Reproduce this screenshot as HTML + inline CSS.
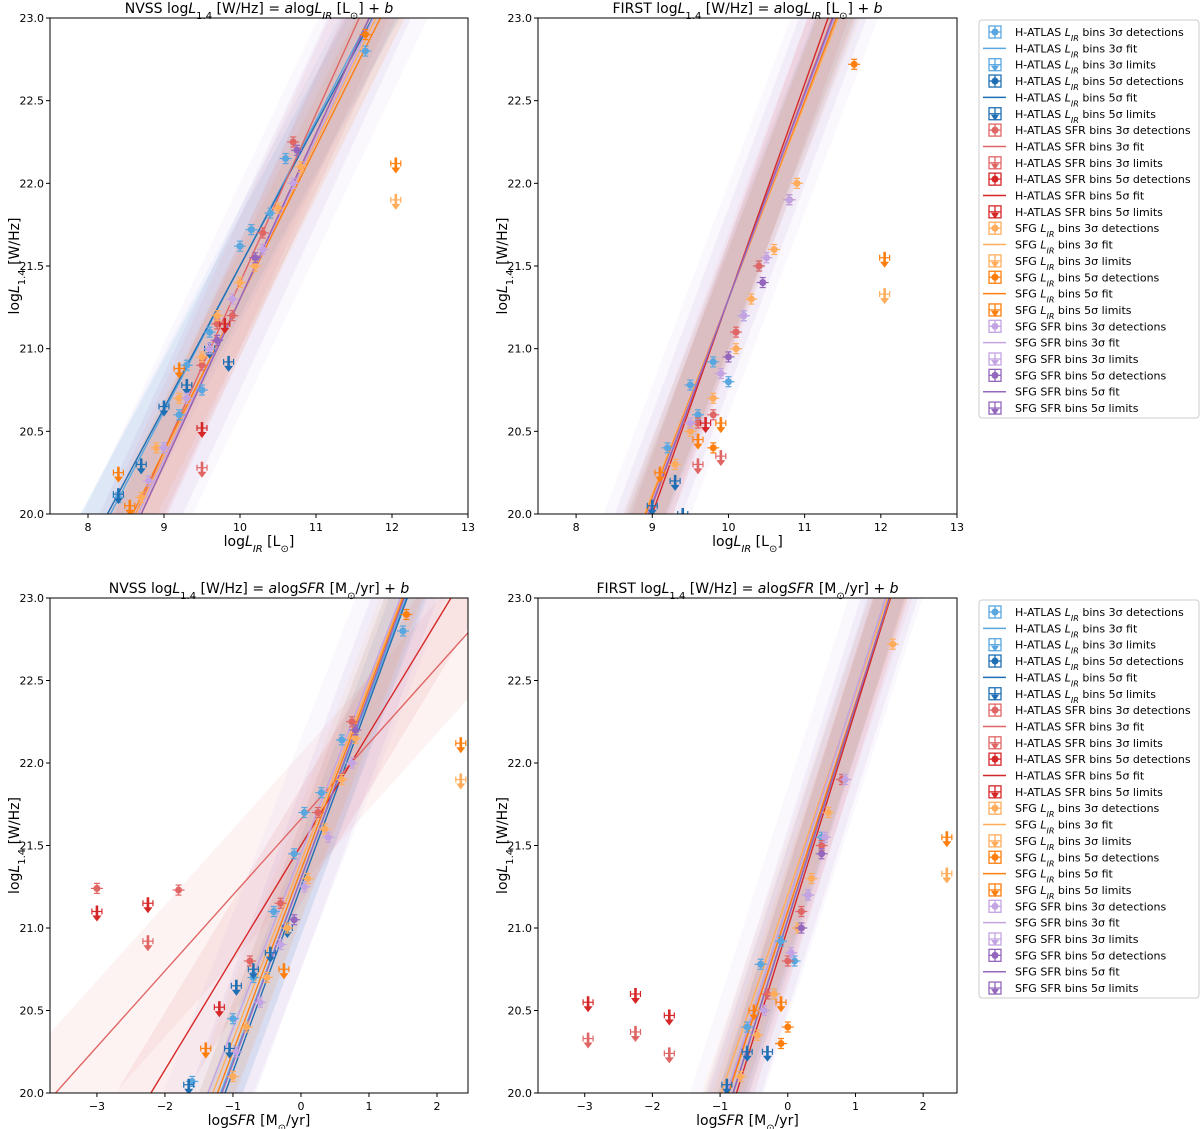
<!DOCTYPE html>
<html><head><meta charset="utf-8"><style>
html,body{margin:0;padding:0;background:#fff;overflow:hidden;}
svg{display:block;font-family:"DejaVu Sans","Liberation Sans",sans-serif;}
</style></head><body>
<svg id="fig" width="1200" height="1129" viewBox="0 0 1200 1129" xmlns="http://www.w3.org/2000/svg"></svg>
<script>
// ---- data ----
const yTicks=[20.0,20.5,21.0,21.5,22.0,22.5,23.0];
const xTicksLIR=[8,9,10,11,12,13];
const xTicksSFR=[-3,-2,-1,0,1,2];
const seriesNames=["H-ATLAS LIR 3σ","H-ATLAS LIR 5σ","H-ATLAS SFR 3σ","H-ATLAS SFR 5σ","SFG LIR 3σ","SFG LIR 5σ","SFG SFR 3σ","SFG SFR 5σ"];
const bandWidth=[0.35,0.3,0.4,0.35,0.35,0.3,0.7,0.55];
// panel 1 NVSS vs LIR
const p1_hl3_det=[[8.4,20.1],[9.0,20.4],[9.2,20.6],[9.5,20.75],[9.3,20.9],[9.6,21.1],[10.0,21.62],[10.15,21.72],[10.4,21.82],[10.6,22.15],[11.65,22.8]];
const p1_hl5_lim=[[8.4,20.12],[8.7,20.3],[9.0,20.65],[9.3,20.78],[9.6,21.0],[9.85,20.92]];
const p1_hs3_det=[[9.5,20.9],[9.7,21.15],[9.9,21.2],[10.3,21.7],[10.7,22.25]];
const p1_hs5_lim=[[9.5,20.52],[9.8,21.15]];
const p1_hs3_lim=[[9.5,20.28]];
const p1_sl3_det=[[8.7,20.1],[8.9,20.4],[9.2,20.7],[9.5,20.95],[9.7,21.2],[10.0,21.4],[10.2,21.5],[10.5,21.85],[10.8,22.1]];
const p1_sl5_det=[[11.65,22.9]];
const p1_sl5_lim=[[8.4,20.25],[8.55,20.05],[9.2,20.88],[12.05,22.12]];
const p1_sl3_lim=[[12.05,21.9]];
const p1_ss3_det=[[8.8,20.2],[9.0,20.4],[9.3,20.7],[9.6,21.0],[9.9,21.3],[10.3,21.6],[10.7,22.0]];
const p1_ss5_det=[[9.7,21.05],[10.2,21.55],[10.75,22.2]];
const p1_fitA=[0.88,0.86,1.02,1.0,0.95,0.92,0.97,1.0];
const p1_fitB=[12.7,12.9,11.2,11.3,11.8,12.1,11.6,11.3];
// panel 2 FIRST vs LIR
const p2_hl3_det=[[9.5,20.78],[9.8,20.92],[10.0,20.8],[10.2,21.2],[10.4,21.5],[10.8,21.9],[9.2,20.4],[9.6,20.6]];
const p2_hl5_lim=[[9.0,20.05],[9.3,20.2],[9.4,20.0]];
const p2_hs3_det=[[9.6,20.55],[9.8,20.6],[10.1,21.1],[10.4,21.5],[10.8,21.9]];
const p2_hs5_lim=[[9.7,20.55]];
const p2_hs3_lim=[[9.6,20.3],[9.9,20.35]];
const p2_sl3_det=[[9.3,20.3],[9.5,20.5],[9.8,20.7],[10.1,21.0],[10.3,21.3],[10.6,21.6],[10.9,22.0]];
const p2_sl5_det=[[11.65,22.72],[9.8,20.4]];
const p2_sl5_lim=[[9.1,20.25],[9.6,20.45],[9.9,20.55],[12.05,21.55]];
const p2_sl3_lim=[[12.05,21.33]];
const p2_ss3_det=[[9.5,20.55],[9.9,20.85],[10.2,21.2],[10.5,21.55],[10.8,21.9]];
const p2_ss5_det=[[10.0,20.95],[10.45,21.4]];
const p2_fitA=[1.2,1.22,1.25,1.3,1.18,1.2,1.22,1.24];
const p2_fitB=[9.3,9.1,8.8,8.3,9.5,9.3,9.1,8.9];
// panel 3 NVSS vs SFR
const p3_hl3_det=[[-1.6,20.07],[-1.0,20.45],[-0.7,20.7],[-0.4,21.1],[-0.1,21.45],[0.05,21.7],[0.3,21.82],[0.6,22.14],[1.5,22.8]];
const p3_hl5_lim=[[-1.65,20.05],[-1.05,20.27],[-0.95,20.65],[-0.7,20.75],[-0.45,20.85],[-0.2,21.0]];
const p3_hs3_det=[[-3.0,21.24],[-1.8,21.23],[-0.75,20.8],[-0.3,21.15],[0.25,21.7],[0.75,22.25]];
const p3_hs5_lim=[[-3.0,21.1],[-2.25,21.15],[-1.2,20.52]];
const p3_hs3_lim=[[-2.25,20.92]];
const p3_sl3_det=[[-1.0,20.1],[-0.8,20.4],[-0.5,20.7],[-0.2,21.0],[0.1,21.3],[0.35,21.6],[0.6,21.9],[0.8,22.15]];
const p3_sl5_det=[[1.55,22.9]];
const p3_sl5_lim=[[-1.4,20.27],[-0.25,20.75],[2.35,22.12]];
const p3_sl3_lim=[[2.35,21.9]];
const p3_ss3_det=[[-0.95,20.25],[-0.6,20.55],[-0.3,20.9],[0.05,21.25],[0.4,21.55],[0.75,22.0]];
const p3_ss5_det=[[-0.1,21.05],[0.8,22.2]];
const p3_fitA=[1.1,1.12,0.46,0.68,1.08,1.1,1.06,1.12];
const p3_fitB=[21.3,21.25,21.66,21.5,21.4,21.35,21.45,21.3];
// panel 4 FIRST vs SFR
const p4_hl3_det=[[-0.4,20.78],[-0.1,20.92],[0.1,20.8],[0.3,21.2],[0.5,21.55],[0.8,21.9],[-0.6,20.4],[-0.2,20.6]];
const p4_hl5_lim=[[-0.9,20.05],[-0.6,20.25],[-0.3,20.25]];
const p4_hs3_det=[[-0.3,20.6],[0.0,20.8],[0.2,21.1],[0.5,21.5],[0.8,21.9]];
const p4_hs5_lim=[[-2.95,20.55],[-2.25,20.6],[-1.75,20.47]];
const p4_hs3_lim=[[-2.95,20.33],[-2.25,20.37],[-1.75,20.24]];
const p4_sl3_det=[[-0.7,20.1],[-0.45,20.35],[-0.2,20.6],[0.15,21.0],[0.35,21.3],[0.6,21.7],[1.55,22.72]];
const p4_sl5_det=[[0.0,20.4],[-0.1,20.3]];
const p4_sl5_lim=[[-0.5,20.5],[-0.1,20.55],[2.35,21.55]];
const p4_sl3_lim=[[2.35,21.33]];
const p4_ss3_det=[[-0.35,20.5],[0.05,20.85],[0.3,21.2],[0.55,21.55],[0.85,21.9]];
const p4_ss5_det=[[0.2,21.0],[0.5,21.45]];
const p4_fitA=[1.28,1.3,1.25,1.32,1.22,1.26,1.28,1.3];
const p4_fitB=[21.15,21.05,21.1,21.0,21.2,21.1,21.15,21.05];

// ---- rendering ----
const NS="http://www.w3.org/2000/svg";
const fig=document.getElementById('fig');
function mk(tag,attrs,parent){const e=document.createElementNS(NS,tag);for(const k in attrs)e.setAttribute(k,attrs[k]);(parent||fig).appendChild(e);return e;}
const COL=["#5aa7e0","#1f6fb4","#e06666","#d62728","#ffad5c","#ff7f0e","#c4a3e3","#9467bd"];
function addTitle(g,x,y,parts,anchor,rot){
  const t=mk('text',{x:x,y:y,'font-size':14,'text-anchor':anchor||'middle',fill:'#000'},g);
  if(rot)t.setAttribute('transform',`rotate(-90 ${x} ${y})`);
  parts.forEach(p=>{const s=mk('tspan',{},t);s.textContent=p[0];if(p[1]==='i')s.setAttribute('font-style','italic');if(p[1]==='sub'){s.setAttribute('font-size',10);s.setAttribute('baseline-shift','sub');}if(p[1]==='isub'){s.setAttribute('font-size',10);s.setAttribute('font-style','italic');s.setAttribute('baseline-shift','sub');}});
  return t;
}
function panel(id,P){
  const g=mk('g',{});
  
  
  const sx=v=>P.L+(v-P.xmin)/(P.xmax-P.xmin)*(P.R-P.L);
  const sy=v=>P.B-(v-20)/3*(P.B-P.T);
  const cid='clip-'+id;
  const cp=mk('clipPath',{id:cid},g);mk('rect',{x:P.L,y:P.T,width:P.R-P.L,height:P.B-P.T},cp);
  const pg=mk('g',{'clip-path':`url(#${cid})`},g);
  for(let i=0;i<8;i++){
    const a=P.fitA[i],b=P.fitB[i],w=bandWidth[i];
    const x1=P.xmin,x2=P.xmax;
    const pts=[[x1,a*x1+b+w],[x2,a*x2+b+w],[x2,a*x2+b-w],[x1,a*x1+b-w]].map(p=>sx(p[0])+','+sy(p[1])).join(' ');
    const band=mk('polygon',{points:pts,fill:COL[i],'fill-opacity':0.08},pg);
    
    
  }
  for(let i=0;i<8;i++){
    const a=P.fitA[i],b=P.fitB[i];const x1=P.xmin,x2=P.xmax;
    const ln=mk('line',{x1:sx(x1),y1:sy(a*x1+b),x2:sx(x2),y2:sy(a*x2+b),stroke:COL[i],'stroke-width':1.4},pg);
    
    
  }
  function det(arr,c){arr.forEach(p=>{const x=sx(p[0]),y=sy(p[1]);const gg=mk('g',{},pg);
    
    
    mk('line',{x1:x-6,y1:y,x2:x+6,y2:y,stroke:c,'stroke-width':1.2},gg);
    mk('line',{x1:x,y1:y-5,x2:x,y2:y+5,stroke:c,'stroke-width':1.2},gg);
    mk('line',{x1:x-3,y1:y-5,x2:x+3,y2:y-5,stroke:c,'stroke-width':1.2},gg);
    mk('line',{x1:x-3,y1:y+5,x2:x+3,y2:y+5,stroke:c,'stroke-width':1.2},gg);
    mk('circle',{cx:x,cy:y,r:3.5,fill:c},gg);});}
  function lim(arr,c){arr.forEach(p=>{const x=sx(p[0]),y=sy(p[1]);const gg=mk('g',{},pg);
    
    
    mk('line',{x1:x-5,y1:y,x2:x+5,y2:y,stroke:c,'stroke-width':1.2},gg);
    mk('line',{x1:x-5,y1:y-3,x2:x-5,y2:y+3,stroke:c,'stroke-width':1.2},gg);
    mk('line',{x1:x+5,y1:y-3,x2:x+5,y2:y+3,stroke:c,'stroke-width':1.2},gg);
    mk('line',{x1:x,y1:y-6,x2:x,y2:y+6,stroke:c,'stroke-width':2.6},gg);
    mk('polygon',{points:`${x-4.5},${y+4} ${x+4.5},${y+4} ${x},${y+10}`,fill:c},gg);});}
  const D=P.data;
  det(D.hl3,COL[0]);lim(D.hl5l,COL[1]);det(D.hs3,COL[2]);lim(D.hs5l,COL[3]);lim(D.hs3l,COL[2]);
  det(D.sl3,COL[4]);det(D.sl5,COL[5]);lim(D.sl5l,COL[5]);lim(D.sl3l,COL[4]);det(D.ss3,COL[6]);det(D.ss5,COL[7]);
  mk('rect',{x:P.L,y:P.T,width:P.R-P.L,height:P.B-P.T,fill:'none',stroke:'#000','stroke-width':1},g);
  P.xt.forEach(v=>{const x=sx(v);mk('line',{x1:x,y1:P.B,x2:x,y2:P.B+4,stroke:'#000'},g);
    const t=mk('text',{x:x,y:P.B+17,'font-size':11,'text-anchor':'middle'},g);t.textContent=v<0?'−'+(-v):v;});
  yTicks.forEach(v=>{const y=sy(v);mk('line',{x1:P.L-4,y1:y,x2:P.L,y2:y,stroke:'#000'},g);
    const t=mk('text',{x:P.L-6,y:y+4,'font-size':11,'text-anchor':'end'},g);t.textContent=v.toFixed(1);});
  const tt=addTitle(g,(P.L+P.R)/2,P.T-5,P.title);
  
  const xl=addTitle(g,(P.L+P.R)/2,P.B+32,P.xlab);
  
  const yl=addTitle(g,P.L-31,(P.T+P.B)/2,[["log"],["L","i"],["1.4","sub"],[" [W/Hz]"]],'middle',true);
  
}
const tLIR=(s)=>[[s+" log"],["L","i"],["1.4","sub"],[" [W/Hz] = "],["a","i"],["log"],["L","i"],["IR","isub"],[" [L"],["⊙","sub"],["] + "],["b","i"]];
const tSFR=(s)=>[[s+" log"],["L","i"],["1.4","sub"],[" [W/Hz] = "],["a","i"],["log"],["SFR","i"],[" [M"],["⊙","sub"],["/yr] + "],["b","i"]];
const xlLIR=[["log"],["L","i"],["IR","isub"],[" [L"],["⊙","sub"],["]"]];
const xlSFR=[["log"],["SFR","i"],[" [M"],["⊙","sub"],["/yr]"]];
function pack(h,hl5,hs,hs5,hs3l,sl,sl5,sl5l,sl3l,ss,ss5){return{hl3:h,hl5l:hl5,hs3:hs,hs5l:hs5,hs3l:hs3l,sl3:sl,sl5:sl5,sl5l:sl5l,sl3l:sl3l,ss3:ss,ss5:ss5};}
panel('panel-nvss-lir',{L:50,R:468,T:18,B:514,xmin:7.5,xmax:13,xt:xTicksLIR,fitA:p1_fitA,fitB:p1_fitB,title:tLIR("NVSS"),xlab:xlLIR,
  data:pack(p1_hl3_det,p1_hl5_lim,p1_hs3_det,p1_hs5_lim,p1_hs3_lim,p1_sl3_det,p1_sl5_det,p1_sl5_lim,p1_sl3_lim,p1_ss3_det,p1_ss5_det)});
panel('panel-first-lir',{L:538,R:957,T:18,B:514,xmin:7.5,xmax:13,xt:xTicksLIR,fitA:p2_fitA,fitB:p2_fitB,title:tLIR("FIRST"),xlab:xlLIR,
  data:pack(p2_hl3_det,p2_hl5_lim,p2_hs3_det,p2_hs5_lim,p2_hs3_lim,p2_sl3_det,p2_sl5_det,p2_sl5_lim,p2_sl3_lim,p2_ss3_det,p2_ss5_det)});
panel('panel-nvss-sfr',{L:50,R:468,T:598,B:1093,xmin:-3.69,xmax:2.456,xt:xTicksSFR,fitA:p3_fitA,fitB:p3_fitB,title:tSFR("NVSS"),xlab:xlSFR,
  data:pack(p3_hl3_det,p3_hl5_lim,p3_hs3_det,p3_hs5_lim,p3_hs3_lim,p3_sl3_det,p3_sl5_det,p3_sl5_lim,p3_sl3_lim,p3_ss3_det,p3_ss5_det)});
panel('panel-first-sfr',{L:538,R:957,T:598,B:1093,xmin:-3.69,xmax:2.50,xt:xTicksSFR,fitA:p4_fitA,fitB:p4_fitB,title:tSFR("FIRST"),xlab:xlSFR,
  data:pack(p4_hl3_det,p4_hl5_lim,p4_hs3_det,p4_hs5_lim,p4_hs3_lim,p4_sl3_det,p4_sl5_det,p4_sl5_lim,p4_sl3_lim,p4_ss3_det,p4_ss5_det)});
function legend(top){
  const g=mk('g',{});
  
  
  mk('rect',{x:979,y:top,width:220,height:398,fill:'#fff',stroke:'#ccc',rx:3},g);
  const kinds=[["detections","det"],["fit","fit"],["limits","lim"]];
  const grp=[["H-ATLAS ","L","IR"],["H-ATLAS ","SFR",""],["SFG ","L","IR"],["SFG ","SFR",""]];
  let k=0;
  for(let gi=0;gi<4;gi++)for(let s=0;s<2;s++)for(const kd of kinds){
    const c=COL[gi*2+s];const y=top+12+k*16.35;k++;
    const e=mk('g',{},g);
    
    
    if(kd[1]==='fit')mk('line',{x1:983,y1:y,x2:1006,y2:y,stroke:c,'stroke-width':1.5},e);
    else{mk('rect',{x:989,y:y-6,width:12,height:12,fill:'none',stroke:c,'stroke-width':1.3},e);
      mk('line',{x1:995,y1:y-6,x2:995,y2:y+6,stroke:c,'stroke-width':1.3},e);
      mk('line',{x1:989,y1:y,x2:1001,y2:y,stroke:c,'stroke-width':1.3},e);
      if(kd[1]==='det')mk('circle',{cx:995,cy:y,r:3.5,fill:c},e);
      else mk('polygon',{points:`991,${y+1} 999,${y+1} 995,${y+7}`,fill:c},e);}
    const t=mk('text',{x:1015,y:y+4,'font-size':11},e);
    const a=mk('tspan',{},t);a.textContent=grp[gi][0];
    const b=mk('tspan',{},t);b.textContent=grp[gi][1];
    if(grp[gi][2]){b.setAttribute('font-style','italic');const sb=mk('tspan',{'font-size':8,'font-style':'italic','baseline-shift':'sub'},t);sb.textContent=grp[gi][2];}
    const r=mk('tspan',{},t);r.textContent="  bins "+(s?5:3)+"σ "+kd[0];
  }
}
legend(20);legend(600);
</script>
</body></html>
